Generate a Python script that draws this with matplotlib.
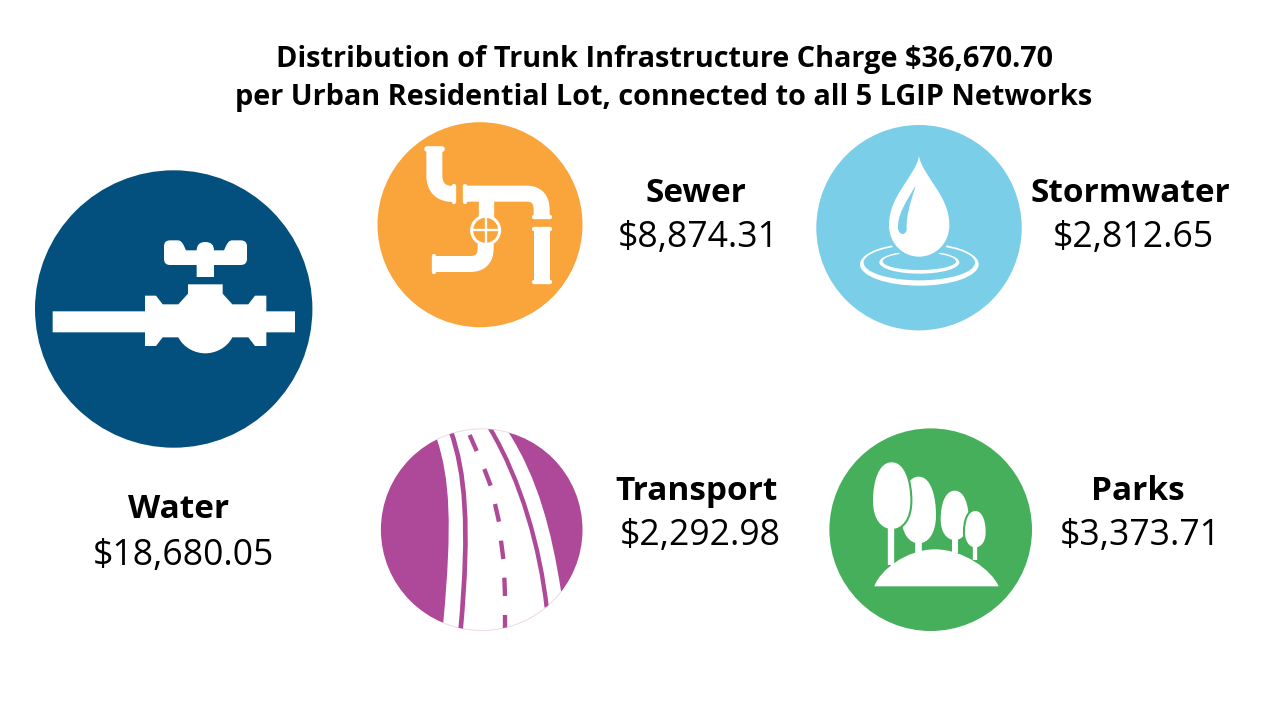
import matplotlib
matplotlib.use("Agg")
import matplotlib.pyplot as plt
from matplotlib.path import Path
from matplotlib.patches import PathPatch, Circle, Ellipse

# ---- data ----
TITLE_LINES = ["Distribution of Trunk Infrastructure Charge $36,670.70",
               "per Urban Residential Lot, connected to all 5 LGIP Networks"]
categories = ["Water", "Sewer", "Stormwater", "Transport", "Parks"]
charges = [18680.05, 8874.31, 2812.65, 2292.98, 3373.71]
colors = ["#03507F", "#F9A53B", "#7ACEE8", "#AE4898", "#46AF5B"]

# ---- layout (pixels) ----
centers = [(173.7, 309), (480, 224.7), (919, 227.7), (481.7, 529.7), (930.7, 529.7)]
radii = [138.7, 102.5, 102.7, 100.8, 101.3]
name_pos = [(179, 510), (696, 193), (1130, 193), (697, 491), (1138, 491)]
value_pos = [(183, 556), (698, 238), (1133, 238), (700, 536), (1140, 536)]
FONT = "Open Sans"
WHITE = "white"

fig = plt.figure(figsize=(12.8, 7.2), dpi=100)
ax = fig.add_axes([0, 0, 1, 1])
ax.set_xlim(0, 1280)
ax.set_ylim(720, 0)
ax.axis("off")


def make_path(origin, spec):
    ox, oy = origin
    toks = spec.split()
    verts, codes = [], []
    i = 0
    n_pts = {"M": (1, Path.MOVETO), "L": (1, Path.LINETO), "Q": (2, Path.CURVE3), "C": (3, Path.CURVE4)}
    cmd = None
    while i < len(toks):
        t = toks[i]
        if t == "Z":
            verts.append((0, 0))
            codes.append(Path.CLOSEPOLY)
            i += 1
            continue
        if t in n_pts:
            cmd = t
            i += 1
        cnt, code = n_pts[cmd]
        for _ in range(cnt):
            verts.append((ox + float(toks[i]) / 3, oy + float(toks[i + 1]) / 3))
            codes.append(code)
            i += 2
    return Path(verts, codes)


def fill(origin, spec, color=WHITE, z=3, clip=None):
    p = PathPatch(make_path(origin, spec), facecolor=color, edgecolor="none", lw=0, zorder=z)
    ax.add_patch(p)
    if clip is not None:
        p.set_clip_path(clip)
    return p


def stroke(origin, spec, width, color=WHITE, z=3, clip=None, cap="butt"):
    p = PathPatch(make_path(origin, spec), facecolor="none", edgecolor=color,
                  lw=width / 3 * 0.72, zorder=z, capstyle=cap, joinstyle="round")
    ax.add_patch(p)
    if clip is not None:
        p.set_clip_path(clip)
    return p


def ell(origin, cx, cy, rx, ry, face="none", edge=WHITE, width=0, z=3):
    ox, oy = origin
    ax.add_patch(Ellipse((ox + cx / 3, oy + cy / 3), 2 * rx / 3, 2 * ry / 3, facecolor=face,
                         edgecolor=edge, lw=width / 3 * 0.72, zorder=z))


circles = []
for c, r, col in zip(centers, radii, colors):
    circ = Circle(c, r, facecolor=col, edgecolor="none", zorder=1)
    ax.add_patch(circ)
    circles.append(circ)

# ---- Water icon ----
o = (30, 165)
fill(o, "M 68 439 L 345 439 L 345 392 L 378 392 L 398 418 L 445 418 L 474 386 L 474 358 L 578 358 "
        "L 578 386 L 607 418 L 655 418 L 675 392 L 709 392 L 709 439 L 795 439 L 795 502 L 709 502 "
        "L 709 543 L 675 543 L 655 517 L 607 517 C 590 550 555 565 526 565 C 497 565 462 550 445 517 "
        "L 398 517 L 378 543 L 345 543 L 345 502 L 68 502 Z")
fill(o, "M 500 336 L 552 336 L 552 300 L 632 300 Q 651 300 651 282 L 651 244 Q 651 226 632 226 "
        "L 606 226 Q 595 226 587 245 L 582 256 L 552 256 Q 552 231 526 231 Q 500 231 500 256 L 468 256 "
        "L 463 245 Q 455 226 444 226 L 420 226 Q 402 226 402 244 L 402 282 Q 402 300 420 300 L 500 300 Z")

# ---- Sewer icon ----
o = (370, 120)
stroke(o, "M 193 85 L 193 165 Q 193 222 250 222", 48)
stroke(o, "M 285 221 L 470 221 Q 515 221 515 270 L 515 290", 48)
stroke(o, "M 515 322 L 515 490", 48)
stroke(o, "M 347 240 L 347 300", 46)
stroke(o, "M 347 370 L 347 385 Q 347 432 300 432 L 190 432", 48)
stroke(o, "M 170 88 L 216 88", 17, cap="round")
stroke(o, "M 492 291 L 540 291", 13, cap="round")
stroke(o, "M 492 326 L 540 326", 13, cap="round")
stroke(o, "M 492 487 L 540 487", 13, cap="round")
stroke(o, "M 252 198 L 252 246", 13, cap="round")
stroke(o, "M 285 197 L 285 245", 13, cap="round")
stroke(o, "M 192 408 L 192 456", 13, cap="round")
ell(o, 347, 331, 42, 42, face=colors[1], width=9, z=4)
stroke(o, "M 305 331 L 389 331", 7, z=5)
stroke(o, "M 347 289 L 347 373", 7, z=5)

# ---- Stormwater icon ----
o = (810, 120)
ell(o, 328, 433, 178, 64, face=WHITE, edge="none", z=2)
ell(o, 328, 428, 167, 53, face=colors[2], edge="none", z=2.1)
ell(o, 328, 427, 120, 34, face=WHITE, edge="none", z=2.2)
ell(o, 328, 424, 110, 26, face=colors[2], edge="none", z=2.3)
DROP = ("M 327 108 C 338 170 418 225 418 315 C 418 372 375 410 327 410 "
        "C 280 410 237 372 237 315 C 237 225 316 170 327 108 Z")
p = make_path(o, DROP)
ax.add_patch(PathPatch(p, facecolor=colors[2], edgecolor=colors[2], lw=5, zorder=4))
fill(o, DROP, z=5)
fill(o, "M 318 195 C 285 250 262 285 264 325 C 266 346 288 348 290 328 C 288 290 300 250 318 195 Z",
     color=colors[2], z=6)

# ---- Transport icon ----
o = (375, 425)
cl = circles[3]
road = fill(o, "M 185 40 C 225 160 232 300 205 590 L 205 640 L 560 640 L 558 498 C 530 320 490 160 398 18 "
               "L 398 -10 L 185 -10 Z", clip=cl, z=2)
edge = Circle(centers[3], radii[3], facecolor="none", edgecolor="#F3DDEE", lw=0.7, zorder=2.5)
ax.add_patch(edge)
edge.set_clip_path(make_path(o, "M 185 40 C 225 160 232 300 205 590 L 205 640 L 560 640 L 558 498 "
                                "C 530 320 490 160 398 18 L 398 -10 L 185 -10 Z"), ax.transData)
stroke(o, "M 228 20 C 270 140 285 300 257 612", 14, color=colors[3], clip=cl)
stroke(o, "M 345 10 C 440 170 495 370 515 547", 13, color=colors[3], clip=cl)
for seg in ["284 30 305 78", "328 132 347 182", "360 237 372 290",
            "378 347 385 402", "388 458 390 513", "390 570 390 610"]:
    a, b, c_, d = seg.split()
    stroke(o, f"M {a} {b} L {c_} {d}", 13, color=colors[3], clip=cl)

# ---- Parks icon ----
o = (825, 425)


def egg(cx, top, bot, hw):
    h = bot - top
    return (f"M {cx} {top} C {cx + hw * .72} {top} {cx + hw} {top + .3 * h} {cx + hw} {top + .58 * h} "
            f"C {cx + hw} {top + .85 * h} {cx + hw * .55} {bot} {cx} {bot} "
            f"C {cx - hw * .55} {bot} {cx - hw} {top + .85 * h} {cx - hw} {top + .58 * h} "
            f"C {cx - hw} {top + .3 * h} {cx - hw * .72} {top} {cx} {top} Z")


def tree(cx, top, bot, hw, z):
    e = egg(cx, top, bot, hw)
    ax.add_patch(PathPatch(make_path(o, e), facecolor=colors[4], edgecolor=colors[4], lw=3, zorder=z))
    fill(o, e, z=z + 0.1)


tree(281, 155, 355, 52, 3.1)
tree(200, 112, 312, 56, 3.3)
tree(389, 197, 345, 42, 3.5)
tree(451, 258, 367, 31, 3.7)
stroke(o, "M 280 345 L 280 385", 20, z=3.9)
stroke(o, "M 389 335 L 389 385", 18, z=3.9)
stroke(o, "M 451 360 L 451 405", 13, z=3.9)
stroke(o, "M 199 305 L 199 420", 19, z=3.9)
fill(o, "M 148 484 C 165 435 245 373 330 373 C 415 373 500 435 521 484 Z", z=4)

# ---- Text ----
for line, y in zip(TITLE_LINES, [60, 98]):
    ax.text(664, y, line, ha="center", va="center", fontsize=20.8, fontweight="bold",
            family=FONT, color="black", zorder=10)
for name, val, np_, vp in zip(categories, charges, name_pos, value_pos):
    ax.text(np_[0], np_[1], name, ha="center", va="center", fontsize=24, fontweight="bold",
            family=FONT, color="black", zorder=10)
    ax.text(vp[0], vp[1], f"${val:,.2f}", ha="center", va="center", fontsize=25.6,
            family=FONT, color="black", zorder=10)

fig.savefig("out.png", dpi=100, facecolor="white")
